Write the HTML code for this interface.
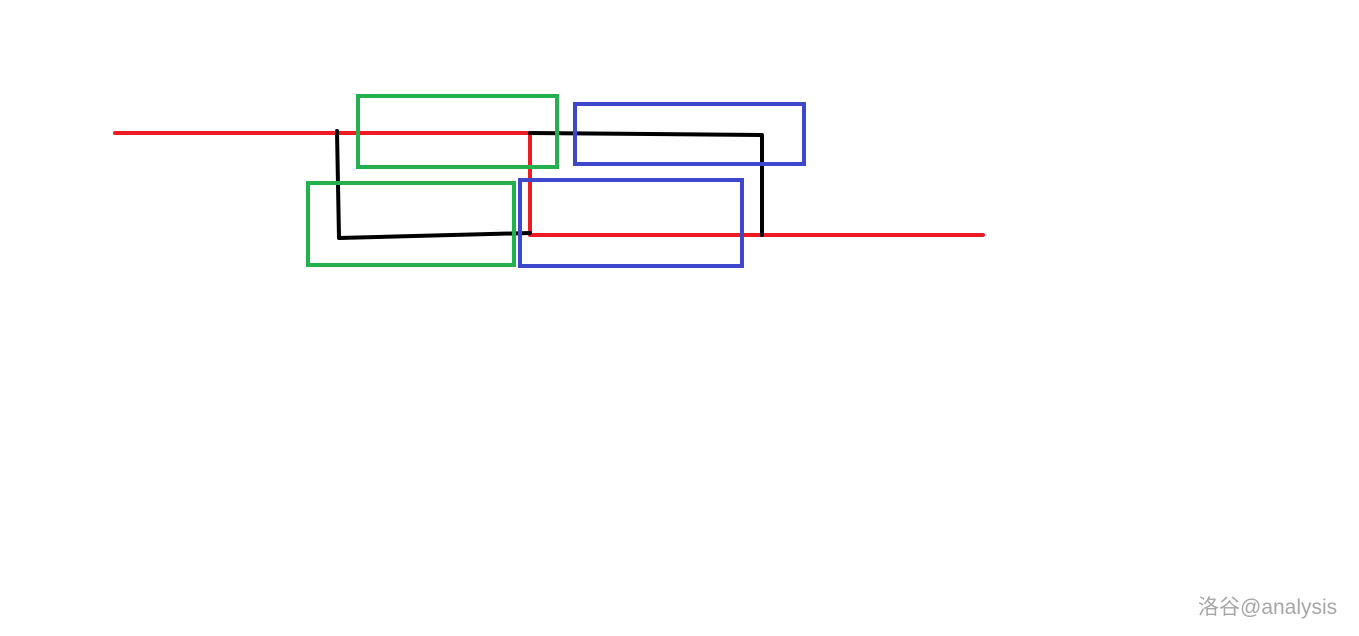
<!DOCTYPE html>
<html><head><meta charset="utf-8"><style>
html,body{margin:0;padding:0;background:#fff;width:1359px;height:636px;overflow:hidden}
svg{position:absolute;left:0;top:0}
.wm{position:absolute;left:1198px;top:591px;font-family:"Liberation Sans","Noto Sans CJK SC",sans-serif;font-size:21px;color:#a6a6a6}
</style></head><body>
<svg width="1359" height="636" viewBox="0 0 1359 636">
<g fill="none" stroke-linecap="round" stroke-linejoin="round">
<polyline points="115,133 530,133 530,235 983,235" stroke="#ed1c24" stroke-width="4"/>
<polyline points="337,131 339,238 530,233" stroke="#000" stroke-width="4"/>
<polyline points="530,133 762,135 762,235" stroke="#000" stroke-width="4"/>
</g>
<g fill="none" stroke-width="4">
<rect x="358" y="96" width="199" height="71" stroke="#22b14c"/>
<rect x="308" y="183" width="206" height="82" stroke="#22b14c"/>
<rect x="575" y="104" width="229" height="60" stroke="#3f48cc"/>
<rect x="520" y="180" width="222" height="86" stroke="#3f48cc"/>
</g>
</svg>
<div class="wm">洛谷@analysis</div>
</body></html>
